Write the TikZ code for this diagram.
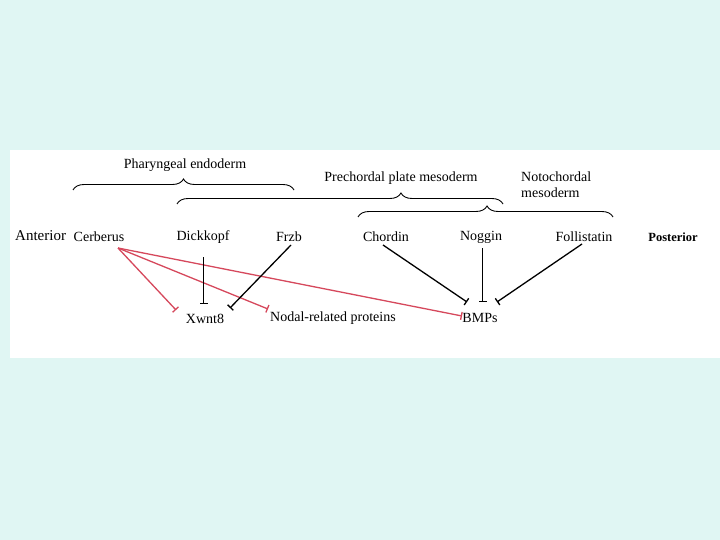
\documentclass[tikz,border=0pt]{standalone}
\usepackage{fontspec}
\setmainfont{Liberation Serif}
\usetikzlibrary{decorations.pathreplacing,arrows.meta}
\definecolor{bgcyan}{RGB}{224,246,243}
\definecolor{inhred}{RGB}{214,72,92}
\begin{document}
\begin{tikzpicture}[x=1pt,y=-1pt,
  lbl/.style={font=\fontsize{14}{16}\selectfont, inner sep=1pt},
  brc/.style={decorate, decoration={brace, amplitude=11pt}, line width=0.9pt},
  inh/.style={line width=1.3pt, -{Bar[width=8pt,line width=1.3pt]}},
  redinh/.style={inh, draw=inhred}]
\fill[bgcyan] (0,0) rectangle (720,540);
\useasboundingbox (0,0) rectangle (720,540);
\fill[white] (10,150) rectangle (720,358);
% group labels
\node[lbl] (pe) at (185,165) {Pharyngeal endoderm};
\node[lbl] (pm) at (401,178) {Prechordal plate mesoderm};
\node[lbl, align=left, anchor=west] (nm) at (520,185) {Notochordal\\mesoderm};
% braces
\draw[brc] (73,190) -- (294,190);
\draw[brc, decoration={aspect=0.687}] (177,204) -- (503,204);
\draw[brc, decoration={aspect=0.506}] (358,217) -- (613,217);
% top row
\node[lbl, font=\fontsize{15}{17}\selectfont, anchor=west] (ant) at (14,236) {Anterior};
\node[lbl] (cer) at (99,237) {Cerberus};
\node[lbl] (dic) at (203,237) {Dickkopf};
\node[lbl] (frz) at (289,237) {Frzb};
\node[lbl] (cho) at (386,237) {Chordin};
\node[lbl] (nog) at (481,237) {Noggin};
\node[lbl] (fol) at (584,237) {Follistatin};
\node[lbl, font=\fontsize{12.5}{14}\selectfont\bfseries] (pos) at (673,237) {Posterior};
% bottom row
\node[lbl] (xw) at (205,319) {Xwnt8};
\node[lbl, anchor=west] (nod) at (269,318) {Nodal-related proteins};
\node[lbl] (bmp) at (480,318) {BMPs};
% anchor points
\coordinate (cs) at (118,248);
\coordinate (xwl) at (176,310);
\coordinate (nodl) at (268,309);
\coordinate (bmpl) at (462,316);
\coordinate (dics) at (203.5,257);
\coordinate (xwt) at (203.5,304);
\coordinate (frzs) at (291,245);
\coordinate (xwr) at (230,308);
\coordinate (chos) at (383,245);
\coordinate (bmpa) at (467,302);
\coordinate (nogs) at (482.5,248);
\coordinate (noge) at (482.5,302);
\coordinate (fols) at (582,244);
\coordinate (bmpb) at (497,302);
% connectors
\draw[redinh] (cs) -- (xwl);
\draw[redinh] (cs) -- (nodl);
\draw[redinh] (cs) -- (bmpl);
\draw[inh] (dics) -- (xwt);
\draw[inh] (frzs) -- (xwr);
\draw[inh] (chos) -- (bmpa);
\draw[inh] (nogs) -- (noge);
\draw[inh] (fols) -- (bmpb);
\end{tikzpicture}
\end{document}
